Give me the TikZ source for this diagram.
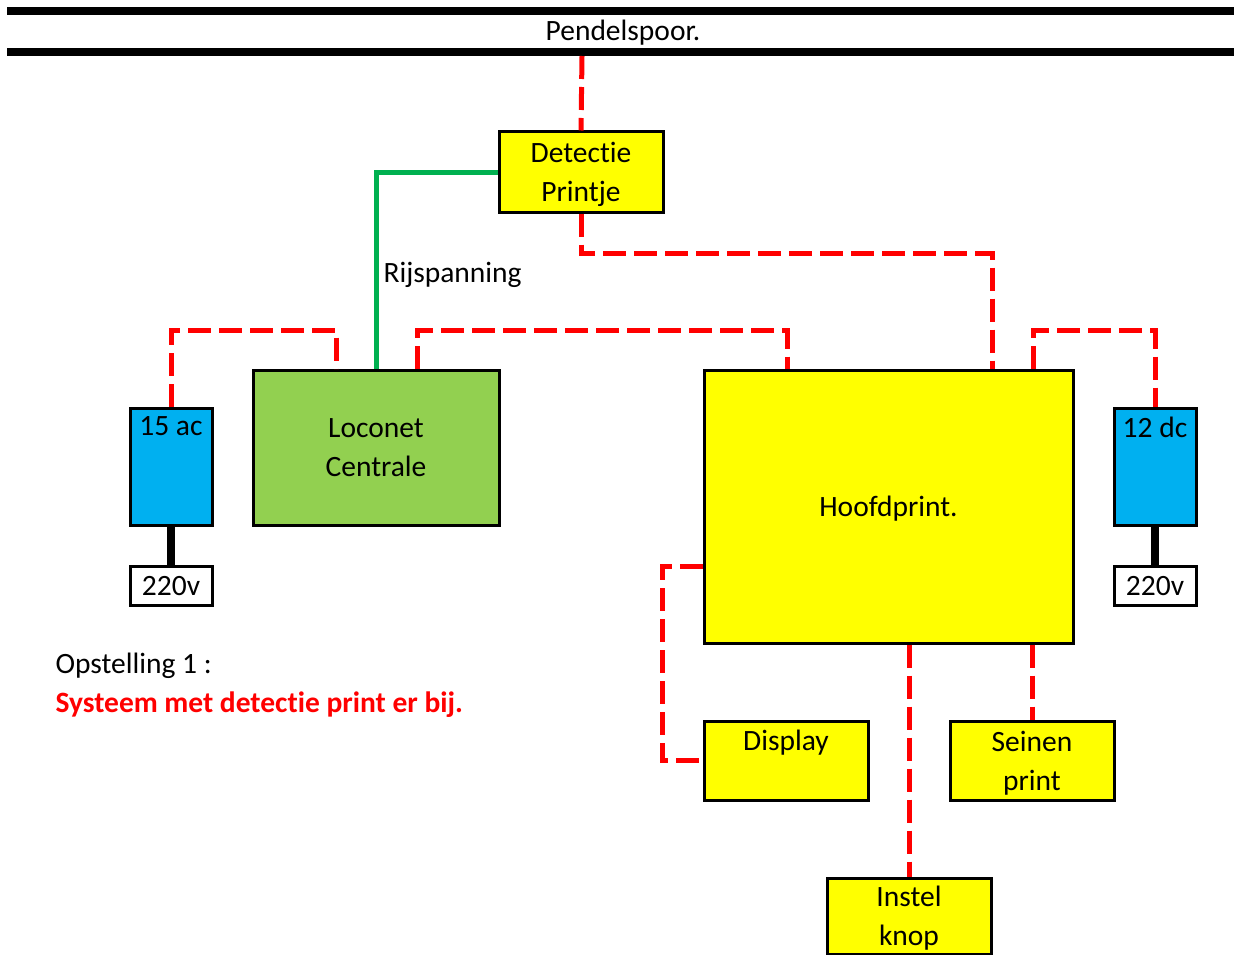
\documentclass[tikz,border=0pt]{standalone}
\usepackage{fontspec}
\setmainfont{Carlito}[Ligatures={NoCommon,NoRare,NoContextual}]
\usepackage{tikz}

\definecolor{pgeel}{HTML}{FFFF00}
\definecolor{pgroen}{HTML}{92D050}
\definecolor{pblauw}{HTML}{00B0F0}
\definecolor{prood}{HTML}{FF0000}
\definecolor{lgroen}{HTML}{00B050}

\begin{document}
\begin{tikzpicture}[x=1pt,y=-1pt,line width=3pt,
  font=\fontsize{29.5}{39}\selectfont,
  kast/.style={draw=black,fill=pgeel,rectangle,inner sep=0pt,align=center,text depth=-2pt},
  voeding/.style={kast,fill=pblauw,minimum width=82,minimum height=117},
  net/.style={kast,fill=white,minimum width=82,minimum height=39},
  bus/.style={draw=prood,line width=5pt,dash pattern=on 23pt off 8pt},
  rail/.style={draw=black,line width=8pt},
  bovenaan/.style={anchor=north,inner sep=0pt,yshift=-9pt}]
\useasboundingbox (0,0) rectangle (1234,955);
\draw[rail] (7,11)--(1234,11);
\draw[rail] (7,52.5)--(1234,52.5);
\node[inner sep=0pt] at (623,33) {Pendelspoor.};
\coordinate (spoor) at (582,56);
\node[kast,minimum width=164,minimum height=80] (det) at (581,172) {Detectie\\Printje};
\node[kast,fill=pgroen,minimum width=246,minimum height=155] (loco) at (376,447.5) {Loconet\\Centrale};
\node[voeding,label={[bovenaan]north:15 ac}] (ac) at (171,466.5) {};
\node[net] (neta) at (171,585.5) {220v};
\node[kast,minimum width=369,minimum height=273] (hoofd) at (888.5,506.5) {Hoofdprint.};
\node[voeding,label={[bovenaan]north:12 dc}] (dc) at (1155,466.5) {};
\node[net] (netb) at (1155,585.5) {220v};
\node[kast,minimum width=164,minimum height=79,label={[bovenaan]north:Display}] (disp) at (786,760.5) {};
\node[kast,minimum width=164,minimum height=79] (sein) at (1032,760.5) {Seinen\\print};
\node[kast,minimum width=164,minimum height=76] (instel) at (909,916) {Instel\\knop};
\draw[bus] (spoor)--(det.north);
\draw[bus] (det.south)--++(0,40)-|([xshift=103.5pt]hoofd.north);
\draw[draw=lgroen,line width=5pt] (det.west)-|(loco.north);
\node[anchor=west,inner sep=0pt] at (382,275) {Rijspanning};
\draw[bus] (ac.north)--++(0,-76)-|([xshift=-40pt]loco.north);
\draw[bus] ([xshift=41pt]loco.north)--++(0,-38)-|([xshift=-101.5pt]hoofd.north);
\draw[bus] ([xshift=144.5pt]hoofd.north)--++(0,-38)-|(dc.north);
\draw[line width=8pt] (ac.south)--(neta.north);
\draw[line width=8pt] (dc.south)--(netb.north);
\draw[bus] ([yshift=-59.5pt]hoofd.west)--++(-40,0)|-(disp.west);
\draw[bus] ([xshift=20.5pt]hoofd.south)--(instel.north);
\draw[bus] (hoofd.south -| sein.north)--(sein.north);
\node[anchor=west,inner sep=0pt] at (54,666) {Opstelling 1 :};
\node[anchor=west,inner sep=0pt,text=prood,font=\fontsize{29.5}{39}\selectfont\bfseries] at (54,705) {Systeem met detectie print er bij.};
\end{tikzpicture}
\end{document}
